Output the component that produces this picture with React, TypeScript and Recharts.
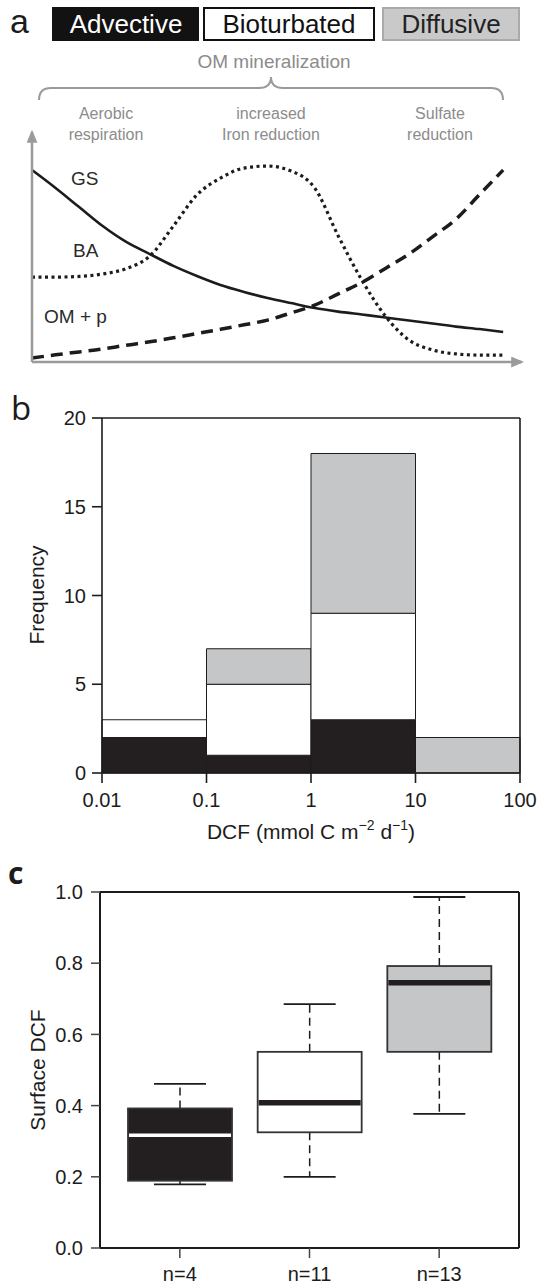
import React from 'react';
import { ComposedChart, LineChart, Line, Bar, XAxis, YAxis, ReferenceArea } from 'recharts';

// panel a: sketch of the profiles along the redox sequence (relative units)
const stage = [0, 0.5, 1, 1.5, 2, 2.5, 3, 3.5, 4, 4.5, 5, 5.5, 6, 6.5, 7, 7.5, 8, 8.5, 9, 9.5, 10];
const gsLevel = [85.7, 77.7, 69.2, 60.7, 53.6, 48.2, 42.9, 38.4, 34.4, 31.3, 28.6, 26.3, 24.1, 22.5, 21.2, 19.9, 18.5, 17.2, 15.8, 14.7, 13.4];
const baLevel = [37.9, 37.9, 38.2, 39.3, 41.7, 47.3, 60.7, 74.6, 82.1, 86.6, 87.5, 85.3, 77.7, 56.3, 36.6, 20.5, 9.8, 5.4, 3.6, 3.1, 3.1];
const omLevel = [1.8, 3.2, 4.5, 5.8, 7.5, 9.0, 10.8, 12.7, 14.6, 16.6, 18.7, 21.9, 25.4, 30.4, 35.5, 41.8, 48.2, 55.9, 63.8, 74.8, 85.7];

// panel b: DCF histogram, counts per decade bin
const binLow = [0.01, 0.1, 1, 10];
const binHigh = [0.1, 1, 10, 100];
const advectiveCount = [2, 1, 3, 0];
const bioturbatedCount = [1, 4, 6, 0];
const diffusiveCount = [0, 2, 9, 2];
const dcfTicks = [0.01, 0.1, 1, 10, 100];
const freqTicks = [0, 5, 10, 15, 20];

// panel c: surface DCF box plots
const groups = ['n=4', 'n=11', 'n=13'];
const whiskerLow = [0.179, 0.2, 0.377];
const lowerQuartile = [0.189, 0.325, 0.551];
const medians = [0.317, 0.408, 0.745];
const upperQuartile = [0.392, 0.551, 0.792];
const whiskerHigh = [0.461, 0.685, 0.986];
const surfaceTicks = [0, 0.2, 0.4, 0.6, 0.8, 1.0];

const BLACK = '#231f20';
const GREY = '#c5c6c8';
const INK = '#1c1c1c';
const SANS = "'Liberation Sans', Arial, sans-serif";
const boxFill = [BLACK, '#ffffff', GREY];
const medianColor = ['#ffffff', BLACK, BLACK];
const medianWidth = [3.5, 5.5, 5.5];

const profileRows = stage.map((s, i) => ({ stage: s, gs: gsLevel[i], ba: baLevel[i], om: omLevel[i] }));

const binRows = binLow.map((lo, i) => ({
  dcf: lo,
  total: advectiveCount[i] + bioturbatedCount[i] + diffusiveCount[i],
}));

const histSegments = binLow.flatMap((lo, i) => {
  const a = advectiveCount[i];
  const b = a + bioturbatedCount[i];
  const c = b + diffusiveCount[i];
  return [
    { x1: lo, x2: binHigh[i], y1: 0, y2: a, fill: BLACK },
    { x1: lo, x2: binHigh[i], y1: a, y2: b, fill: '#ffffff' },
    { x1: lo, x2: binHigh[i], y1: b, y2: c, fill: GREY },
  ].filter((s) => s.y2 > s.y1);
});

const boxRows = groups.map((g, i) => ({
  group: g,
  base: lowerQuartile[i],
  span: upperQuartile[i] - lowerQuartile[i],
  lo: whiskerLow[i],
  q1: lowerQuartile[i],
  med: medians[i],
  q3: upperQuartile[i],
  hi: whiskerHigh[i],
}));

const BoxShape = (props: any) => {
  const { x, y, width, height, payload } = props;
  const i = groups.indexOf(payload.group);
  const unit = height / (payload.q3 - payload.q1);
  const cx = x + width / 2;
  const medY = y + (payload.q3 - payload.med) * unit;
  const hiY = y - (payload.hi - payload.q3) * unit;
  const loY = y + height + (payload.q1 - payload.lo) * unit;
  const cap = width / 4;
  return (
    <g>
      <line x1={cx} x2={cx} y1={y} y2={hiY} stroke={INK} strokeWidth={1.5} strokeDasharray="8 5" />
      <line x1={cx} x2={cx} y1={y + height} y2={loY} stroke={INK} strokeWidth={1.5} strokeDasharray="8 5" />
      <line x1={cx - cap} x2={cx + cap} y1={hiY} y2={hiY} stroke={INK} strokeWidth={1.8} />
      <line x1={cx - cap} x2={cx + cap} y1={loY} y2={loY} stroke={INK} strokeWidth={1.8} />
      <rect x={x} y={y} width={width} height={height} fill={boxFill[i]} stroke="#333" strokeWidth={1.8} />
      <line x1={x + 1} x2={x + width - 1} y1={medY} y2={medY} stroke={medianColor[i]} strokeWidth={medianWidth[i]} />
    </g>
  );
};

const tickStyle = { fontSize: 20, fill: INK, fontFamily: SANS };
const frame = { stroke: INK, strokeWidth: 1.6 };
const frameC = { stroke: INK, strokeWidth: 2 };

const Annotations = () => (
  <svg width={540} height={1285} style={{ position: 'absolute', left: 0, top: 0, pointerEvents: 'none', fontFamily: SANS }}>
    <defs>
      <marker id="axisArrow" viewBox="0 0 12 10" refX={10} refY={5} markerWidth={13} markerHeight={11}
        markerUnits="userSpaceOnUse" orient="auto-start-reverse">
        <path d="M0,0 L12,5 L0,10 z" fill="#9b9b9b" />
      </marker>
    </defs>
    {/* panel letters */}
    <text x={10} y={33} fontSize={34} fill={INK}>a</text>
    <text x={11} y={420} fontFamily="'Open Sans', sans-serif" fontSize={33} fill={INK}>b</text>
    <text x={8} y={884} fontFamily="'Open Sans', sans-serif" fontWeight={700} fontSize={30} fill={INK}>c</text>

    {/* legend boxes */}
    <rect x={52} y={7} width={147} height={34} fill="#121212" />
    <text x={126} y={33} textAnchor="middle" fontSize={26} fill="#ffffff">Advective</text>
    <rect x={204} y={8} width={170} height={32} fill="#ffffff" stroke="#111" strokeWidth={2} />
    <text x={289} y={33} textAnchor="middle" fontSize={26} fill="#111">Bioturbated</text>
    <rect x={383} y={8} width={136} height={32} fill="#c9c9c9" stroke="#aaa" strokeWidth={2} />
    <text x={451} y={33} textAnchor="middle" fontSize={26} fill="#222">Diffusive</text>

    {/* OM mineralization brace */}
    <text x={274} y={68} textAnchor="middle" fontSize={19} fill="#8c8c8c">OM mineralization</text>
    <path d="M39,100 Q39,88 51,88 L259,88 Q271,88 271,77 Q271,88 283,88 L491,88 Q503,88 503,100"
      fill="none" stroke="#9a9a9a" strokeWidth={2} />
    <g fontSize={16} fill="#8c8c8c" textAnchor="middle">
      <text x={106} y={119}>Aerobic</text>
      <text x={106} y={140}>respiration</text>
      <text x={271} y={119}>increased</text>
      <text x={271} y={140}>Iron reduction</text>
      <text x={440} y={119}>Sulfate</text>
      <text x={440} y={140}>reduction</text>
    </g>
    <g fontSize={19} fill="#2a2a2a">
      <text x={71} y={185}>GS</text>
      <text x={73} y={257}>BA</text>
      <text x={44} y={323}>OM + p</text>
    </g>

    {/* axis titles */}
    <text x={44} y={595} transform="rotate(-90 44 595)" textAnchor="middle" fontSize={21} fill={INK}>Frequency</text>
    <text x={311} y={839} textAnchor="middle" fontSize={21} fill={INK}>
      DCF (mmol C m<tspan dy={-9} fontSize={14}>−2</tspan><tspan dy={9}> d</tspan>
      <tspan dy={-9} fontSize={14}>−1</tspan><tspan dy={9}>)</tspan>
    </text>
    <text x={45} y={1070} transform="rotate(-90 45 1070)" textAnchor="middle" fontSize={21} fill={INK}>Surface DCF</text>
  </svg>
);

export default function App() {
  return (
    <div style={{ position: 'absolute', left: 0, top: 0, width: 540, height: 1285, background: '#fff',
      fontFamily: SANS, overflow: 'hidden' }}>
      <Annotations />

      <div style={{ position: 'absolute', left: 0, top: 0 }}>
        <LineChart width={540} height={380} data={profileRows} margin={{ top: 132, right: 18, bottom: 17, left: 31 }}>
          <XAxis dataKey="stage" type="number" domain={[0, 10.4]} tick={false} tickLine={false} height={1}
            axisLine={{ stroke: '#9b9b9b', strokeWidth: 2.5, markerEnd: 'url(#axisArrow)' }} />
          <YAxis type="number" domain={[0, 102.7]} tick={false} tickLine={false} width={1}
            axisLine={{ stroke: '#9b9b9b', strokeWidth: 2.5, markerStart: 'url(#axisArrow)' }} />
          <Line dataKey="gs" type="monotone" stroke={INK} strokeWidth={2.6} dot={false} isAnimationActive={false} />
          <Line dataKey="ba" type="monotone" stroke={INK} strokeWidth={3.2} strokeDasharray="3 3.5" dot={false} isAnimationActive={false} />
          <Line dataKey="om" type="monotone" stroke={INK} strokeWidth={3.5} strokeDasharray="12 7" dot={false} isAnimationActive={false} />
        </LineChart>
      </div>

      <div style={{ position: 'absolute', left: 0, top: 380 }}>
        <ComposedChart width={540} height={480} data={binRows} margin={{ top: 37, right: 19, bottom: 0, left: 0 }}>
          <XAxis dataKey="dcf" type="number" scale="log" domain={[0.01, 100]} ticks={dcfTicks} allowDataOverflow
            tickFormatter={(v: number) => String(v)} tick={tickStyle} tickSize={10} tickMargin={10} height={87}
            axisLine={frame} tickLine={frame} interval={0} />
          <XAxis xAxisId="top" dataKey="dcf" orientation="top" type="number" scale="log" domain={[0.01, 100]}
            allowDataOverflow tick={false} tickLine={false} height={1} axisLine={frame} />
          <YAxis type="number" domain={[0, 20]} ticks={freqTicks} tick={tickStyle} tickSize={10} tickMargin={6}
            width={102} axisLine={frame} tickLine={frame} interval={0} allowDataOverflow />
          <YAxis yAxisId="right" orientation="right" type="number" domain={[0, 20]} tick={false} tickLine={false}
            width={1} axisLine={frame} allowDataOverflow />
          <Line dataKey="total" stroke="none" dot={false} activeDot={false} isAnimationActive={false} />
          {histSegments.map((s, i) => (
            <ReferenceArea key={i} x1={s.x1} x2={s.x2} y1={s.y1} y2={s.y2} fill={s.fill} fillOpacity={1}
              stroke={INK} strokeWidth={1} ifOverflow="visible" />
          ))}
        </ComposedChart>
      </div>

      <div style={{ position: 'absolute', left: 0, top: 860 }}>
        <ComposedChart width={540} height={425} data={boxRows} margin={{ top: 31, right: 20, bottom: 0, left: 0 }}
          barCategoryGap={13}>
          <XAxis dataKey="group" type="category" padding={{ left: 15, right: 15 }} tick={tickStyle} tickSize={10}
            tickMargin={9} height={37} axisLine={frameC} tickLine={{ stroke: '#444', strokeWidth: 1.5 }} />
          <XAxis xAxisId="top" orientation="top" dataKey="group" type="category" tick={false} tickLine={false}
            height={1} axisLine={frameC} />
          <YAxis type="number" domain={[0, 1]} ticks={surfaceTicks} tickFormatter={(v: number) => v.toFixed(1)}
            tick={tickStyle} tickSize={9} tickMargin={8} width={100} interval={0}
            axisLine={frameC} tickLine={{ stroke: '#444', strokeWidth: 1.5 }} />
          <YAxis yAxisId="right" orientation="right" type="number" domain={[0, 1]} tick={false} tickLine={false}
            width={1} axisLine={frameC} />
          <Bar dataKey="base" stackId="box" fill="transparent" isAnimationActive={false} />
          <Bar dataKey="span" stackId="box" shape={BoxShape} isAnimationActive={false} />
        </ComposedChart>
      </div>
    </div>
  );
}
